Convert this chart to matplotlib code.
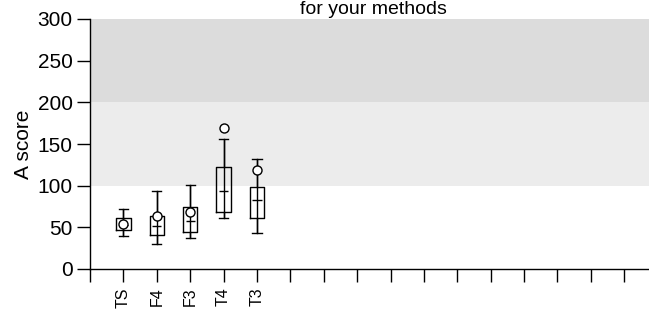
import numpy as np
import matplotlib
matplotlib.use("Agg")
import matplotlib.pyplot as plt

plt.rcParams["font.family"] = ["Liberation Sans", "DejaVu Sans"]

# box statistics
methods = ["TS", "F4", "F3", "T4", "T3"]
whisker_low = [39.6, 29.6, 36.8, 60.8, 43.6]
q1 = [46.8, 40.8, 44.0, 68.8, 60.8]
medians = [53.0, 52.0, 57.6, 94.0, 82.8]
q3 = [60.8, 63.6, 74.0, 122.8, 98.0]
whisker_high = [71.6, 94.0, 100.8, 156.4, 132.0]
your_scores = [53.6, 63.6, 68.8, 169.6, 118.8]

n_slots = 16
band_edges = [100, 200, 300]
band_colors = ["#ececec", "#dcdcdc"]


def main():
    fig = plt.figure(figsize=(6.49, 3.09), dpi=100)
    ax = fig.add_axes([90 / 649, 40 / 309, 566 / 649, 250 / 309])

    # grey zones
    for lo, hi, c in zip(band_edges[:-1], band_edges[1:], band_colors):
        ax.axhspan(lo, hi, color=c, lw=0, zorder=0)

    pos = np.arange(1, len(methods) + 1)
    stats = []
    for i in range(len(methods)):
        stats.append(dict(whislo=whisker_low[i], q1=q1[i], med=medians[i],
                          q3=q3[i], whishi=whisker_high[i], fliers=[]))
    lp = dict(color="black", lw=1.0)
    ax.bxp(stats, positions=pos, widths=0.43, capwidths=0.28,
           boxprops=lp, whiskerprops=lp, capprops=lp,
           medianprops=dict(lw=0), showfliers=False, manage_ticks=False)
    # whisker runs through the box, short median tick
    ax.vlines(pos, whisker_low, whisker_high, color="black", lw=1.0, zorder=3)
    ax.hlines(medians, pos - 0.14, pos + 0.14, color="black", lw=1.0, zorder=3)
    ax.plot(pos, your_scores, "o", mfc="white", mec="black", ms=6.5, mew=1.0,
            zorder=4)

    ax.set_xlim(0, n_slots + 0.95)
    ax.set_ylim(0, 300)
    ax.set_yticks(range(0, 301, 50))
    ax.set_xticks(range(0, n_slots + 1))
    ax.set_xticklabels([""] + methods + [""] * (n_slots - len(methods)),
                       rotation=90, fontsize=11.5)
    ax.tick_params(axis="y", labelsize=15, length=9.5, width=1.0, pad=3)
    ax.tick_params(axis="x", length=9.5, width=1.0, pad=4)
    ax.set_ylabel("A score", fontsize=15, labelpad=3)

    for s in ["top", "right"]:
        ax.spines[s].set_visible(False)
    ax.spines["left"].set_linewidth(1.0)
    ax.spines["bottom"].set_linewidth(1.0)

    fig.text(373 / 649, 1 - 14 / 309, "for your methods", ha="center",
             va="baseline", fontsize=14)

    fig.savefig("out.png", dpi=100)


if __name__ == "__main__":
    main()
